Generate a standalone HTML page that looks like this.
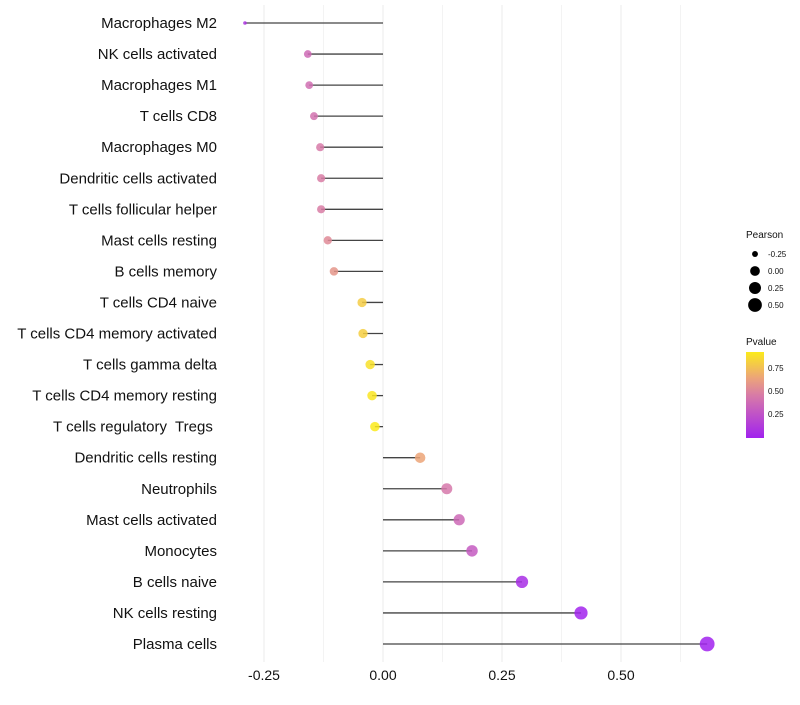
<!DOCTYPE html>
<html><head><meta charset="utf-8"><style>
body{margin:0;background:#fff;font-family:"Liberation Sans",sans-serif}
text{white-space:pre}
</style></head><body>
<svg id="chart" width="800" height="700" xmlns="http://www.w3.org/2000/svg">
<g id="grid"></g><g id="marks"></g><g id="ylabels"></g><g id="xlabels"></g><g id="legend"></g>
</svg>
<script>
const categories=["Macrophages M2","NK cells activated","Macrophages M1","T cells CD8","Macrophages M0","Dendritic cells activated","T cells follicular helper","Mast cells resting","B cells memory","T cells CD4 naive","T cells CD4 memory activated","T cells gamma delta","T cells CD4 memory resting","T cells regulatory  Tregs ","Dendritic cells resting","Neutrophils","Mast cells activated","Monocytes","B cells naive","NK cells resting","Plasma cells"];
const pearson=[-0.29,-0.158,-0.155,-0.145,-0.132,-0.130,-0.130,-0.116,-0.103,-0.044,-0.042,-0.027,-0.023,-0.017,0.078,0.134,0.160,0.187,0.292,0.416,0.681];
const pvalue=[0.1,0.38,0.4,0.42,0.46,0.47,0.47,0.53,0.58,0.8,0.81,0.88,0.9,0.92,0.65,0.45,0.37,0.3,0.07,0.02,0.01];
const xTicks=[-0.25,0,0.25,0.5];
const xTickLabels=["-0.25","0.00","0.25","0.50"];
const sizeLegend=[-0.25,0,0.25,0.5];
const sizeLegendLabels=["-0.25","0.00","0.25","0.50"];
const colorLegend=[0.25,0.5,0.75];
const colorLegendLabels=["0.25","0.50","0.75"];

const NS="http://www.w3.org/2000/svg";
const xs=v=>383+v*476;
const ys=i=>23+i*31.05;
const vmin=Math.min(...pearson),vmax=Math.max(...pearson);
const rs=v=>1.8+5.2*Math.sqrt(Math.max(0,(v-vmin)/(vmax-vmin)))*1.08;
const stops=[[0,[160,32,240]],[0.45,[214,120,170]],[0.65,[236,165,120]],[1,[255,255,0]]];
function col(p){for(let i=1;i<stops.length;i++){if(p<=stops[i][0]){const a=stops[i-1],b=stops[i],t=(p-a[0])/(b[0]-a[0]);return "rgb("+a[1].map((c,k)=>Math.round(c+(b[1][k]-c)*t)).join(",")+")";}}return "rgb(255,255,0)";}
function mk(tag,attrs,parent){const e=document.createElementNS(NS,tag);for(const k in attrs)e.setAttribute(k,attrs[k]);document.getElementById(parent).appendChild(e);return e;}

for(let v=-0.25;v<=0.626;v+=0.125){
 const g=mk("line",{x1:xs(v),x2:xs(v),y1:5,y2:662,stroke:"#ebebeb","stroke-width":Math.abs(Math.round(v*4)-v*4)<1e-6?1:0.6},"grid");
 
 
}
categories.forEach((c,i)=>{
 const y=ys(i);
 const l=mk("line",{x1:xs(0),x2:xs(pearson[i]),y1:y,y2:y,stroke:"#444","stroke-width":1.3},"marks");
 
 
 const p=mk("circle",{cx:xs(pearson[i]),cy:y,r:rs(pearson[i]),fill:col(pvalue[i]),"fill-opacity":0.85},"marks");
 
 
 const t=mk("text",{x:217,y:y+5,"text-anchor":"end","font-size":15,fill:"#111"},"ylabels");
 t.textContent=c;
 
 
});
xTicks.forEach((v,i)=>{
 const t=mk("text",{x:xs(v),y:680,"text-anchor":"middle","font-size":14,fill:"#111"},"xlabels");
 t.textContent=xTickLabels[i];
 
 
});
let t=mk("text",{x:746,y:238,"font-size":10,fill:"#111"},"legend");t.textContent="Pearson";


sizeLegend.forEach((v,i)=>{
 const y=254+i*17;
 const c=mk("circle",{cx:755,cy:y,r:rs(v),fill:"#000"},"legend");
 
 
 const tt=mk("text",{x:768,y:y+3,"font-size":8,fill:"#111"},"legend");tt.textContent=sizeLegendLabels[i];
 
 
});
t=mk("text",{x:746,y:345,"font-size":10,fill:"#111"},"legend");t.textContent="Pvalue";


const defs=mk("defs",{},"legend");
const grad=document.createElementNS(NS,"linearGradient");grad.setAttribute("id","pg");grad.setAttribute("x1","0");grad.setAttribute("y1","1");grad.setAttribute("x2","0");grad.setAttribute("y2","0");
defs.appendChild(grad);
for(let k=0;k<=10;k++){const p=0.01+k*0.091;const s=document.createElementNS(NS,"stop");s.setAttribute("offset",k/10);s.setAttribute("stop-color",col(p));grad.appendChild(s);}
const bar=mk("rect",{x:746,y:352,width:18,height:86,fill:"url(#pg)"},"legend");


colorLegend.forEach((v,i)=>{
 const y=437-v*92;
 const tt=mk("text",{x:768,y:y+3,"font-size":8,fill:"#111"},"legend");tt.textContent=colorLegendLabels[i];
 
 
});
</script>
</body></html>
